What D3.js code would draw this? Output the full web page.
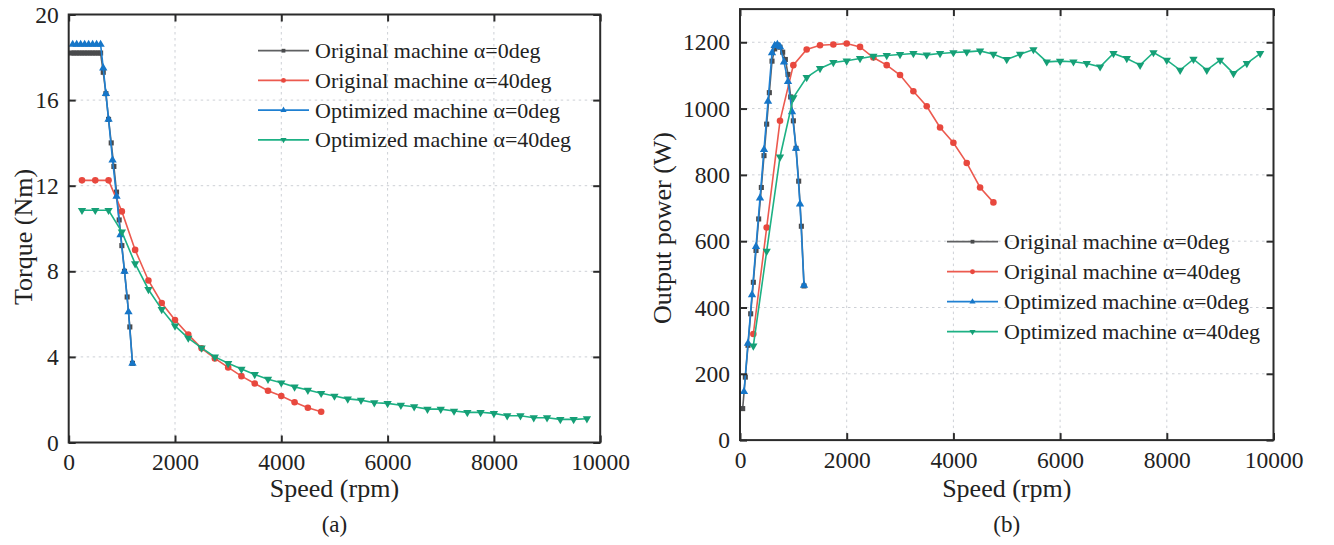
<!DOCTYPE html>
<html>
<head>
<meta charset="utf-8">
<script src="https://cdn.jsdelivr.net/npm/d3@7"></script>
<style>
  html, body { margin: 0; padding: 0; background: #ffffff; }
  svg { display: block; }
  svg text { font-family: "Liberation Serif", "Times New Roman", Times, "DejaVu Serif", serif !important; }
</style>
</head>
<body>
<svg id="chart" width="1334" height="545"></svg>
<script>
// ---- Speeds (rpm) of each test series ----
const speedOrig0 = [50,100,150,200,250,300,350,400,450,500,550,600,650,700,750,800,850,900,950,1000,1050,1100,1150,1200];
const speedOpt0  = [75,150,225,300,375,450,525,600,650,700,750,825,900,975,1050,1125,1200];
const speedOrig40 = [250,500,750,1000,1250,1500,1750,2000,2250,2500,2750,3000,3250,3500,3750,4000,4250,4500,4750];
const speedOpt40  = [250,500,750,1000,1250,1500,1750,2000,2250,2500,2750,3000,3250,3500,3750,4000,4250,4500,4750,5000,
                     5250,5500,5750,6000,6250,6500,6750,7000,7250,7500,7750,8000,8250,8500,8750,9000,9250,9500,9750];

// ---- Torque (Nm) ----
const torqueOrig0 = [18.2,18.2,18.2,18.2,18.2,18.2,18.2,18.2,18.2,18.2,18.2,18.2,17.3,16.3,15.1,14.0,12.9,11.7,10.4,9.2,8.0,6.8,5.4,3.7];
const torqueOpt0  = [18.6,18.6,18.6,18.6,18.6,18.6,18.6,18.6,17.5,16.3,15.1,13.2,11.5,9.7,8.0,6.1,3.7];
const torqueOrig40 = [12.25,12.25,12.25,10.8,9.0,7.57,6.52,5.72,5.04,4.4,3.93,3.51,3.10,2.76,2.42,2.17,1.88,1.62,1.44];
const torqueOpt40  = [10.85,10.85,10.85,9.84,8.36,7.15,6.22,5.45,4.88,4.42,4.0,3.70,3.43,3.18,2.96,2.79,2.60,2.45,2.30,2.17,
                      2.04,1.98,1.86,1.83,1.74,1.67,1.56,1.56,1.47,1.41,1.41,1.36,1.25,1.25,1.16,1.16,1.08,1.08,1.11];

// ---- Output power (W) ----
const powerOrig0 = [95,190,286,381,476,572,667,762,858,953,1048,1143,1180,1192,1185,1170,1148,1103,1035,963,880,781,645,465];
const powerOpt0  = [146,292,438,584,730,876,1022,1168,1190,1193,1186,1140,1081,990,880,712,467];
const powerOrig40 = [320,641,963,1131,1178,1191,1193,1196,1186,1154,1131,1101,1052,1007,943,897,836,762,717];
const powerOpt40  = [284,570,854,1033,1094,1121,1139,1144,1151,1158,1160,1163,1166,1162,1166,1169,1171,1174,1164,1148,
                     1164,1178,1141,1143,1141,1136,1126,1166,1151,1131,1169,1146,1116,1149,1116,1146,1106,1136,1166];

// ---- Axis ticks and labels ----
const speedTicks = [0,2000,4000,6000,8000,10000];
const torqueTicks = [0,4,8,12,16,20];
const powerTicks = [0,200,400,600,800,1000,1200];
const seriesNames = ["Original machine \u03b1=0deg","Original machine \u03b1=40deg","Optimized machine \u03b1=0deg","Optimized machine \u03b1=40deg"];
const seriesColors = ["#5f6062","#ec5a4f","#1f80d2","#1db184"];
const markerColors = ["#4a4b4d","#e8483e","#1676c8","#159f76"];
const markerKinds = ["square","circle","triangle","triangleDown"];

const FONT = "'Liberation Serif', 'Times New Roman', serif";
const TICK_SIZE = 23.5, TITLE_SIZE = 26, LEGEND_SIZE = 22;
const svg = d3.select("#chart");

function symbolFor(kind) {
  if (kind === "square") return d3.symbolSquare;
  if (kind === "circle") return d3.symbolCircle;
  return d3.symbolTriangle;
}

function drawMarker(g, kind, color, x, y, scale) {
  const sizes = { square: 26, circle: 34, triangle: 30, triangleDown: 30 };
  const p = g.append("path")
    .attr("d", d3.symbol().type(symbolFor(kind)).size(sizes[kind] * scale)())
    .attr("fill", color);
  const rot = kind === "triangleDown" ? " rotate(180)" : "";
  p.attr("transform", `translate(${x},${y})${rot}`);
}

function drawPanel(cfg) {
  const g = svg.append("g");
  const x = d3.scaleLinear().domain([0, 10000]).range(cfg.xRange);
  const y = d3.scaleLinear().domain(cfg.yDomain).range(cfg.yRange);
  const [x0, x1] = cfg.xRange;
  const [yb, yt] = cfg.yRange;

  // dotted grid
  const grid = g.append("g").attr("stroke", "#cdd0d6").attr("stroke-width", 1).attr("stroke-dasharray", "2.5,3.5");
  speedTicks.slice(1, -1).forEach(v => grid.append("line").attr("x1", x(v)).attr("x2", x(v)).attr("y1", yb).attr("y2", yt));
  cfg.yTicks.slice(1).forEach(v => { if (y(v) > yt + 1) grid.append("line").attr("x1", x0).attr("x2", x1).attr("y1", y(v)).attr("y2", y(v)); });

  // series
  cfg.series.forEach((s, i) => {
    const pts = s.xs.map((v, k) => [x(v), y(s.ys[k])]);
    g.append("path").attr("d", d3.line()(pts)).attr("fill", "none")
      .attr("stroke", seriesColors[i]).attr("stroke-width", 1.6);
    pts.forEach(p => drawMarker(g, markerKinds[i], markerColors[i], p[0], p[1], 1));
  });

  // axes with inward ticks on every side
  const tl = 7;
  const fmt = d3.format("d");
  const axB = d3.axisBottom(x).tickValues(speedTicks).tickSizeInner(-tl).tickSizeOuter(0).tickPadding(11).tickFormat(fmt);
  const axT = d3.axisTop(x).tickValues(speedTicks).tickSizeInner(-tl).tickSizeOuter(0).tickFormat("");
  const axL = d3.axisLeft(y).tickValues(cfg.yTicks).tickSizeInner(-tl).tickSizeOuter(0).tickPadding(10).tickFormat(fmt);
  const axR = d3.axisRight(y).tickValues(cfg.yTicks).tickSizeInner(-tl).tickSizeOuter(0).tickFormat("");
  const styleAxis = sel => {
    sel.attr("font-family", FONT).attr("font-size", TICK_SIZE);
    sel.select(".domain").remove();
    sel.selectAll(".tick line").attr("stroke", "#2b2b2b").attr("stroke-width", 2);
    sel.selectAll(".tick text").attr("fill", "#222").attr("font-family", FONT).attr("font-size", TICK_SIZE);
  };
  g.append("g").attr("transform", `translate(0,${yb})`).call(axB).call(styleAxis);
  g.append("g").attr("transform", `translate(0,${yt})`).call(axT).call(styleAxis);
  g.append("g").attr("transform", `translate(${x0},0)`).call(axL).call(styleAxis);
  g.append("g").attr("transform", `translate(${x1},0)`).call(axR).call(styleAxis);
  g.selectAll(".tick text").filter(function () { return this.textContent === ""; }).remove();

  g.append("rect").attr("x", x0).attr("y", yt).attr("width", x1 - x0).attr("height", yb - yt)
    .attr("fill", "none").attr("stroke", "#2b2b2b").attr("stroke-width", 2);

  // axis titles
  const txt = (sel) => sel.attr("fill", "#222").attr("font-family", FONT);
  g.append("text").attr("x", (x0 + x1) / 2).attr("y", 497).attr("text-anchor", "middle")
    .call(txt).attr("font-size", TITLE_SIZE).text("Speed (rpm)");
  g.append("text").attr("transform", `translate(${cfg.yTitleX},${cfg.yTitleY}) rotate(-90)`)
    .attr("text-anchor", "middle").call(txt).attr("font-size", TITLE_SIZE).text(cfg.yTitle);
  g.append("text").attr("x", (x0 + x1) / 2).attr("y", 532).attr("text-anchor", "middle")
    .call(txt).attr("font-size", 23).text(cfg.panel);

  // legend
  const lg = g.append("g");
  seriesNames.forEach((name, i) => {
    const ly = cfg.legendY + i * cfg.legendStep;
    lg.append("line").attr("x1", cfg.legendX).attr("x2", cfg.legendX + cfg.legendLine)
      .attr("y1", ly).attr("y2", ly).attr("stroke", seriesColors[i]).attr("stroke-width", 1.8);
    drawMarker(lg, markerKinds[i], markerColors[i], cfg.legendX + cfg.legendLine / 2, ly, 0.55);
    lg.append("text").attr("x", cfg.legendX + cfg.legendLine + 6).attr("y", ly + 7.5)
      .call(txt).attr("font-size", LEGEND_SIZE).text(name);
  });
}

drawPanel({
  xRange: [68.7, 600.2], yDomain: [0, 20], yRange: [442.5, 14.5], yTicks: torqueTicks,
  yTitle: "Torque (Nm)", yTitleX: 32, yTitleY: 237, panel: "(a)",
  series: [
    { xs: speedOrig0, ys: torqueOrig0 },
    { xs: speedOrig40, ys: torqueOrig40 },
    { xs: speedOpt0, ys: torqueOpt0 },
    { xs: speedOpt40, ys: torqueOpt40 }
  ],
  legendX: 258, legendLine: 51, legendY: 50.7, legendStep: 29.7
});

drawPanel({
  xRange: [740, 1273.5], yDomain: [0, 1300], yRange: [440.1, 9.1], yTicks: powerTicks,
  yTitle: "Output power (W)", yTitleX: 671, yTitleY: 228, panel: "(b)",
  series: [
    { xs: speedOrig0, ys: powerOrig0 },
    { xs: speedOrig40, ys: powerOrig40 },
    { xs: speedOpt0, ys: powerOpt0 },
    { xs: speedOpt40, ys: powerOpt40 }
  ],
  legendX: 947, legendLine: 51, legendY: 241.7, legendStep: 30
});
</script>
</body>
</html>
